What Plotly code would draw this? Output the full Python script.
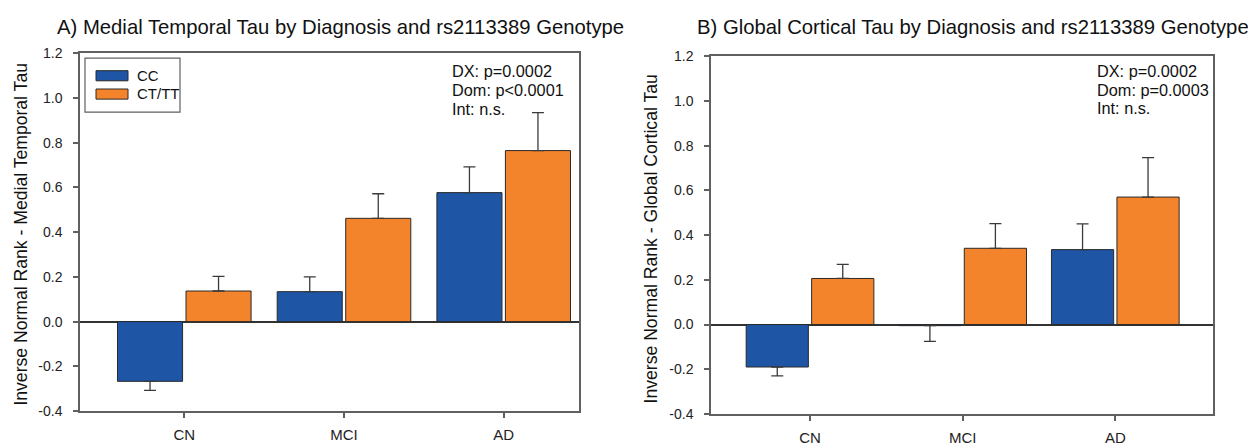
import plotly.graph_objects as go

# Diagnosis groups and genotype series
diagnosis = ["CN", "MCI", "AD"]
genotypes = ["CC", "CT/TT"]

# Panel A: medial temporal tau (inverse normal rank), mean and SEM
mt_cc = [-0.267, 0.134, 0.577]
mt_cc_sem = [0.040, 0.066, 0.115]
mt_ct = [0.137, 0.462, 0.765]
mt_ct_sem = [0.065, 0.110, 0.170]

# Panel B: global cortical tau (inverse normal rank), mean and SEM
gc_cc = [-0.190, -0.005, 0.335]
gc_cc_sem = [0.040, 0.070, 0.115]
gc_ct = [0.206, 0.341, 0.570]
gc_ct_sem = [0.063, 0.110, 0.176]

y_ticks = [-0.4, -0.2, 0.0, 0.2, 0.4, 0.6, 0.8, 1.0, 1.2]
y_tick_text = ["-0.4", "-0.2", "0.0", "0.2", "0.4", "0.6", "0.8", "1.0", "1.2"]

titles = [
    "A) Medial Temporal Tau by Diagnosis and rs2113389 Genotype",
    "B) Global Cortical Tau by Diagnosis and rs2113389 Genotype",
]
y_titles = [
    "Inverse Normal Rank - Medial Temporal Tau",
    "Inverse Normal Rank - Global Cortical Tau",
]
stats_a = ["DX: p=0.0002", "Dom: p<0.0001", "Int: n.s."]
stats_b = ["DX: p=0.0002", "Dom: p=0.0003", "Int: n.s."]

BLUE = "#1f55a5"
ORANGE = "#f4842b"
EDGE = "#2a2a2a"
AXIS = "#606060"
FONT = "Arial, Liberation Sans, sans-serif"

W, H = 1248, 448


def px_x(v):
    return v / W


def px_y(v):
    return 1 - v / H


def one_sided(values, errs):
    """Error bar extends away from zero, in the direction of the bar."""
    up = [e if v >= 0 else 0 for v, e in zip(values, errs)]
    down = [e if v < 0 else 0 for v, e in zip(values, errs)]
    return up, down


fig = go.Figure()

panels = [
    ("x", "y", mt_cc, mt_cc_sem, mt_ct, mt_ct_sem),
    ("x2", "y2", gc_cc, gc_cc_sem, gc_ct, gc_ct_sem),
]
for xa, ya, cc, cc_sem, ct, ct_sem in panels:
    for name, vals, sem, col in [(genotypes[0], cc, cc_sem, BLUE),
                                 (genotypes[1], ct, ct_sem, ORANGE)]:
        up, down = one_sided(vals, sem)
        fig.add_trace(go.Bar(
            x=list(range(len(diagnosis))), y=vals, name=name,
            xaxis=xa, yaxis=ya, showlegend=False,
            marker=dict(color=col, line=dict(color=EDGE, width=1)),
            error_y=dict(type="data", symmetric=False, array=up,
                         arrayminus=down, color="#3a3a3a",
                         thickness=1.3, width=6),
        ))

common_x = dict(
    tickvals=[0, 1, 2], ticktext=diagnosis,
    showline=True, linecolor=AXIS, linewidth=1.5, mirror=True,
    ticks="outside", ticklen=5, tickcolor=AXIS, tickwidth=1.5,
    showgrid=False, zeroline=False,
    tickfont=dict(family=FONT, size=15, color="#222222"),
    ticklabelstandoff=4,
)
common_y = dict(
    range=[-0.4, 1.2], tickvals=y_ticks, ticktext=y_tick_text,
    showline=True, linecolor=AXIS, linewidth=1.5, mirror=True,
    ticks="outside", ticklen=5, tickcolor=AXIS, tickwidth=1.5,
    showgrid=False, zeroline=True, zerolinecolor="#333333",
    zerolinewidth=1.5,
    tickfont=dict(family=FONT, size=14, color="#222222"),
    ticklabelstandoff=8,
)

fig.update_layout(
    width=W, height=H,
    margin=dict(l=0, r=0, t=0, b=0),
    paper_bgcolor="white", plot_bgcolor="white",
    barmode="group", bargap=0.142, bargroupgap=0.05,
    font=dict(family=FONT, color="#111111"),
    xaxis=dict(common_x, domain=[px_x(80), px_x(579)],
               range=[-0.653, 2.4715], anchor="y"),
    yaxis=dict(common_y, domain=[px_y(418), px_y(47)], anchor="x"),
    xaxis2=dict(common_x, domain=[px_x(711), px_x(1213)],
                range=[-0.6486, 2.64], anchor="y2"),
    yaxis2=dict(common_y, domain=[px_y(421), px_y(50)], anchor="x2"),
)

annotations = []
# Panel titles
for txt, x0 in zip(titles, [55, 695]):
    annotations.append(dict(
        text=txt, x=px_x(x0), y=px_y(20), xref="paper", yref="paper",
        xanchor="left", yanchor="middle", showarrow=False,
        font=dict(family=FONT, size=20.3, color="#111111"),
    ))
# Rotated y-axis titles
for txt, xc, yc in zip(y_titles, [21, 651], [235, 240]):
    annotations.append(dict(
        text=txt, x=px_x(xc), y=px_y(yc), xref="paper", yref="paper",
        xanchor="center", yanchor="middle", showarrow=False, textangle=-90,
        font=dict(family=FONT, size=17.6, color="#111111"),
    ))
# Statistics text blocks
for lines, x0, ys in [(stats_a, 450, [65, 85, 105]),
                      (stats_b, 1095, [65, 85, 104])]:
    for line, yy in zip(lines, ys):
        annotations.append(dict(
            text=line, x=px_x(x0), y=px_y(yy), xref="paper", yref="paper",
            xanchor="left", yanchor="middle", showarrow=False,
            font=dict(family=FONT, size=16.3, color="#111111"),
        ))

# Legend box in panel A
shapes = [dict(type="rect", xref="paper", yref="paper",
               x0=px_x(85), x1=px_x(180), y0=px_y(108), y1=px_y(52),
               line=dict(color=AXIS, width=1.2), fillcolor="white")]
for name, col, y_top in [(genotypes[0], BLUE, 65), (genotypes[1], ORANGE, 84)]:
    shapes.append(dict(type="rect", xref="paper", yref="paper",
                       x0=px_x(96), x1=px_x(128),
                       y0=px_y(y_top + 10.5), y1=px_y(y_top),
                       line=dict(color=EDGE, width=1), fillcolor=col))
    annotations.append(dict(
        text=name, x=px_x(135), y=px_y(y_top + 5), xref="paper",
        yref="paper", xanchor="left", yanchor="middle", showarrow=False,
        font=dict(family=FONT, size=15, color="#111111"),
    ))

fig.update_layout(annotations=annotations, shapes=shapes)
fig.write_html("out.html")
